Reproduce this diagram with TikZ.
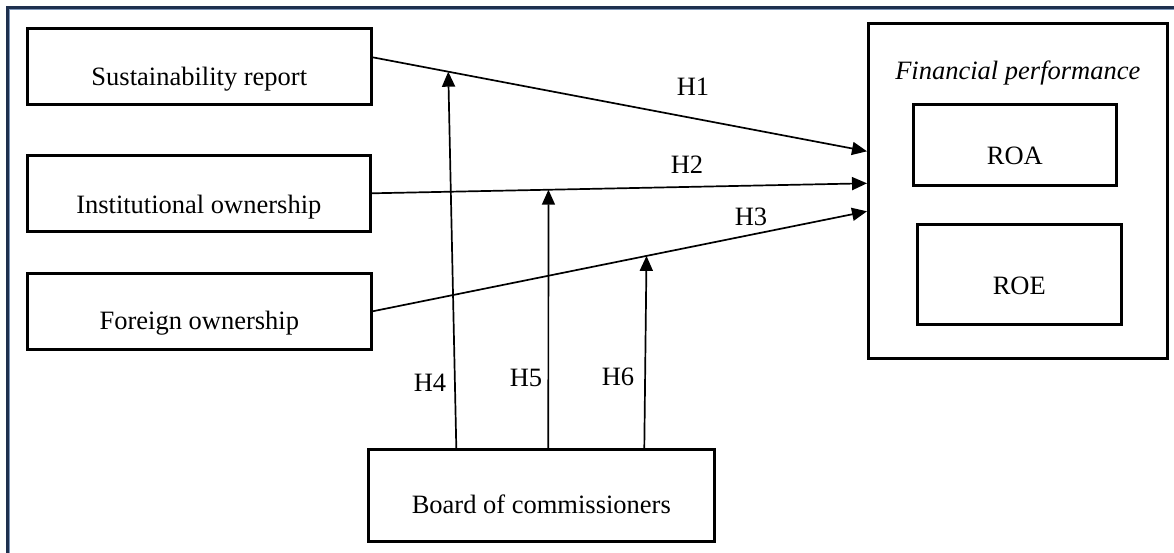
\documentclass[tikz,border=0pt]{standalone}
\usepackage{fontspec}
\setmainfont{Liberation Serif}
\usepackage{xcolor}
\usetikzlibrary{arrows.meta, calc, positioning}

\definecolor{framedark}{RGB}{30,48,78}
\definecolor{framelight}{RGB}{125,150,185}

\begin{document}
\begin{tikzpicture}[x=1pt, y=-1pt,
    font=\fontsize{26.5}{30}\selectfont,
    box/.style={draw, line width=2.6pt, inner sep=0pt, anchor=north west, align=center},
    hyp/.style={line width=1.7pt, -{Triangle[length=15pt, width=13pt]}},
    hlab/.style={inner sep=0pt}]
    \useasboundingbox (0,0) rectangle (1174,552);
    \clip (0,0) rectangle (1174,552);

    % outer frame
    \draw[framedark, line width=2.6pt] (7.7,7.7) rectangle (1200,580);
    \draw[framelight, line width=0.9pt] (9.6,9.6) rectangle (1200,580);

    % independent variables
    \node[box, minimum width=344pt, text height=57pt, text depth=19pt] (sr) at (26,27) {Sustainability report};
    \node[box, minimum width=343pt, text height=58pt, text depth=18pt] (io) at (26,154) {Institutional ownership};
    \node[box, minimum width=344pt, text height=56pt, text depth=20pt] (fo) at (26,272) {Foreign ownership};

    % moderating variable
    \node[box, minimum width=346pt, text height=64pt, text depth=28pt] (board) at (367,448) {Board of commissioners};

    % dependent variable
    \node[box, minimum width=299pt, text height=56pt, text depth=279pt] (fp) at (867,22) {\itshape Financial performance};
    \node[box, minimum width=203pt, text height=60pt, text depth=21pt] (roa) at (912,103) {ROA};
    \node[box, minimum width=204pt, text height=70pt, text depth=30pt] (roe) at (916,223) {ROE};

    % direct paths
    \draw[hyp] ([yshift=9pt]sr.east) -- coordinate[pos=0.153] (m4) ([yshift=39.5pt]fp.west);
    \draw[hyp] (io.east) -- coordinate[pos=0.357] (m5) ([yshift=7.5pt]fp.west);
    \draw[hyp] (fo.east) -- coordinate[pos=0.554] (m6) ([yshift=-20.5pt]fp.west);

    % moderating paths
    \draw[hyp] ([xshift=-85pt]board.north) -- (m4);
    \draw[hyp] ([xshift=7pt]board.north) -- (m5);
    \draw[hyp] ([xshift=103pt]board.north) -- (m6);

    % hypothesis labels
    \node[hlab] (h1) at (693,87) {H1};
    \node[hlab] (h2) at (687,165) {H2};
    \node[hlab] (h3) at (751,217) {H3};
    \node[hlab] (h4) at (430,383) {H4};
    \node[hlab] (h5) at (526,378) {H5};
    \node[hlab] (h6) at (618,377) {H6};
\end{tikzpicture}
\end{document}
